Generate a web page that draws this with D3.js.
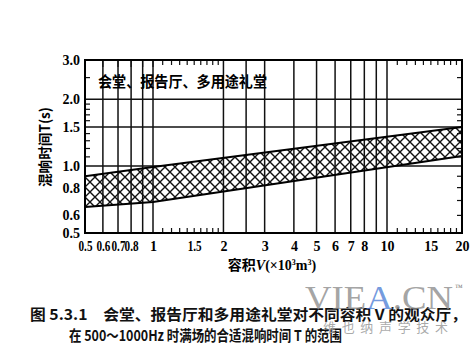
<!DOCTYPE html>
<html><head><meta charset="utf-8">
<script src="https://cdn.jsdelivr.net/npm/d3@7"></script>
<style>html,body{margin:0;padding:0;background:#fff;}svg{display:block;}</style>
</head><body>
<svg id="chart" width="474" height="358"></svg>
<script>
// ---- data ----
const volumes = [0.5, 1, 20];            // V (x10^3 m^3)
const upperT  = [0.90, 0.99, 1.50];      // upper limit of T (s)
const lowerT  = [0.655, 0.69, 1.11];     // lower limit of T (s)
const xTicks = [0.5, 0.6, 0.7, 0.8, 1, 1.5, 2, 3, 4, 5, 6, 7, 8, 10, 15, 20];
const xTickLabels = ["0.5","0.6","0.7","0.8","1","1.5","2","3","4","5","6","7","8","10","15","20"];
const yTicks = [0.5, 0.6, 0.8, 1.0, 1.5, 2.0, 3.0];
const yTickLabels = ["0.5","0.6","0.8","1.0","1.5","2.0","3.0"];
const xGrid = [0.6, 0.7, 0.8, 0.9, 1, 2, 2.5, 3, 4, 5, 6, 7, 8, 9, 10];
const yGrid = [1.0, 1.5, 2.0];
const xMinor = [1.1,1.2,1.3,1.4,1.5,1.6,1.7,1.8,1.9,11,12,13,14,15,16,17,18,19];
const yMinorLeft = [1.1,1.2,1.3,1.4,1.6,1.7,1.8,1.9,2.5];
const yMinorRight = [0.6,0.7,0.8,0.9,1.1,1.2,1.3,1.4,1.6,1.7,1.8,2.5];
const chartTitle = "会堂、报告厅、多用途礼堂";
const yTitle = "混响时间T(s)";
const captionLine1 = "图 5.3.1　会堂、报告厅和多用途礼堂对不同容积 V 的观众厅，";
const captionLine2 = "在 500～1000Hz 时满场的合适混响时间 T 的范围";

// ---- scales ----
const x = d3.scaleLog().domain([0.5, 1, 10, 20]).range([85, 153, 387, 462]);
const y = d3.scaleLog().domain([0.5, 3]).range([233, 60]);
const [x0, x1] = [x(0.5), x(20)];
const [yb, yt] = [y(0.5), y(3)];

const svg = d3.select("#chart");
const serif = "'Liberation Serif','DejaVu Serif',serif";
const cjk = "'Noto Sans CJK SC','Noto Sans CJK JP',sans-serif";

const defs = svg.append("defs");
const pat = defs.append("pattern").attr("id","hatch").attr("patternUnits","userSpaceOnUse")
  .attr("width",10).attr("height",10).attr("x",0).attr("y",2);
pat.append("path").attr("d","M-1,-1L11,11M11,-1L-1,11").attr("stroke","#111").attr("stroke-width",1.4);

// horizontal grid
svg.append("g").selectAll("line").data(yGrid).join("line")
  .attr("x1",x0).attr("x2",x1).attr("y1",d=>y(d)).attr("y2",d=>y(d))
  .attr("stroke","#111").attr("stroke-width",1.5);

// band
const bandData = volumes.map((v,i)=>({v, lo: lowerT[i], hi: upperT[i]}));
const area = d3.area().x(d=>x(d.v)).y0(d=>y(d.lo)).y1(d=>y(d.hi));
svg.append("path").datum(bandData).attr("d",area).attr("fill","#fff");

// vertical grid
svg.append("g").selectAll("line").data(xGrid).join("line")
  .attr("x1",d=>x(d)).attr("x2",d=>x(d)).attr("y1",yt).attr("y2",yb)
  .attr("stroke","#111").attr("stroke-width",1.5);

// hatch + outline
svg.append("path").datum(bandData).attr("d",area).attr("fill","url(#hatch)");
svg.append("path").datum(bandData).attr("d",d3.line().x(d=>x(d.v)).y(d=>y(d.hi)))
  .attr("fill","none").attr("stroke","#000").attr("stroke-width",2);
svg.append("path").datum(bandData).attr("d",d3.line().x(d=>x(d.v)).y(d=>y(d.lo)))
  .attr("fill","none").attr("stroke","#000").attr("stroke-width",2);

// minor ticks
const mt = svg.append("g").attr("stroke","#111").attr("stroke-width",1.2);
xMinor.forEach(v=>{
  mt.append("line").attr("x1",x(v)).attr("x2",x(v)).attr("y1",yb).attr("y2",yb-5);
  mt.append("line").attr("x1",x(v)).attr("x2",x(v)).attr("y1",yt).attr("y2",yt+5);
});
[0.6,0.7,0.8,0.9,1].forEach(v=>{
  mt.append("line").attr("x1",x(v)).attr("x2",x(v)).attr("y1",yt).attr("y2",yt+7);
});
yMinorLeft.forEach(t=>{
  mt.append("line").attr("x1",x0).attr("x2",x0+5).attr("y1",y(t)).attr("y2",y(t));
});
yMinorRight.forEach(t=>{
  mt.append("line").attr("x1",x1).attr("x2",x1-5).attr("y1",y(t)).attr("y2",y(t));
});

// frame
svg.append("rect").attr("x",x0).attr("y",yt).attr("width",x1-x0).attr("height",yb-yt)
  .attr("fill","none").attr("stroke","#000").attr("stroke-width",2);

// axes (labels via d3 axes, lines removed)
const xAxis = svg.append("g").attr("transform",`translate(0,${yb})`)
  .call(d3.axisBottom(x).tickValues(xTicks).tickFormat((d,i)=>xTickLabels[i]).tickSize(0).tickPadding(8));
xAxis.select(".domain").remove();
xAxis.selectAll("text").attr("font-family",serif).attr("font-weight","bold").attr("font-size",14)
  .attr("fill","#000").attr("textLength",function(d,i){return xTickLabels[i].length>2?14:null;})
  .attr("lengthAdjust","spacingAndGlyphs");

const yAxis = svg.append("g").attr("transform",`translate(${x0},0)`)
  .call(d3.axisLeft(y).tickValues(yTicks).tickFormat((d,i)=>yTickLabels[i]).tickSize(0).tickPadding(5));
yAxis.select(".domain").remove();
yAxis.selectAll("text").attr("font-family",serif).attr("font-weight","bold").attr("font-size",14).attr("fill","#000");

// titles
svg.append("text").attr("x",98).attr("y",87).attr("font-family",cjk).attr("font-weight","bold")
  .attr("font-size",15).attr("textLength",169).attr("lengthAdjust","spacingAndGlyphs").attr("fill","#000").text(chartTitle);

svg.append("text").attr("transform","translate(50,147) rotate(-90)").attr("text-anchor","middle")
  .attr("font-family",cjk).attr("font-weight","bold").attr("font-size",14).attr("fill","#000")
  .attr("textLength",80).attr("lengthAdjust","spacingAndGlyphs").text(yTitle);

const xt = svg.append("text").attr("x",272).attr("y",270).attr("text-anchor","middle")
  .attr("font-family",cjk).attr("font-weight","bold").attr("font-size",14).attr("fill","#000");
xt.append("tspan").text("容积");
xt.append("tspan").attr("font-family",serif).attr("font-style","italic").text("V");
xt.append("tspan").attr("font-family",serif).text("(×10");
xt.append("tspan").attr("font-family",serif).attr("font-size",8).attr("dy",-5).text("3");
xt.append("tspan").attr("font-family",serif).attr("dy",5).text("m");
xt.append("tspan").attr("font-family",serif).attr("font-size",8).attr("dy",-5).text("3");
xt.append("tspan").attr("font-family",serif).attr("dy",5).text(")");

// caption
svg.append("text").attr("x",30).attr("y",320).attr("font-family",cjk).attr("font-weight","bold")
  .attr("font-size",15).attr("textLength",437).attr("lengthAdjust","spacingAndGlyphs").attr("fill","#111").text(captionLine1);
svg.append("text").attr("x",69).attr("y",341).attr("font-family",cjk).attr("font-weight","bold")
  .attr("font-size",15).attr("textLength",273).attr("lengthAdjust","spacingAndGlyphs").attr("fill","#111").text(captionLine2);

// watermark
const wm = svg.append("text").attr("x",305).attr("y",309).attr("font-family",serif)
  .attr("font-size",33).attr("textLength",148).attr("lengthAdjust","spacingAndGlyphs")
  .attr("fill","#8c8c8c").attr("fill-opacity",0.8);
wm.append("tspan").text("VIE");
wm.append("tspan").attr("fill","#4f7fd6").text("A");
wm.append("tspan").text(".CN");
svg.append("text").attr("x",455).attr("y",290).attr("font-family",serif).attr("font-size",8)
  .attr("fill","#777").text("™");
svg.append("text").attr("x",323).attr("y",332).attr("font-family",cjk).attr("font-size",13)
  .attr("textLength",125).attr("lengthAdjust","spacing").attr("fill","#9a9a9a").attr("fill-opacity",0.85).text("维也纳声学技术");
</script>
</body></html>
